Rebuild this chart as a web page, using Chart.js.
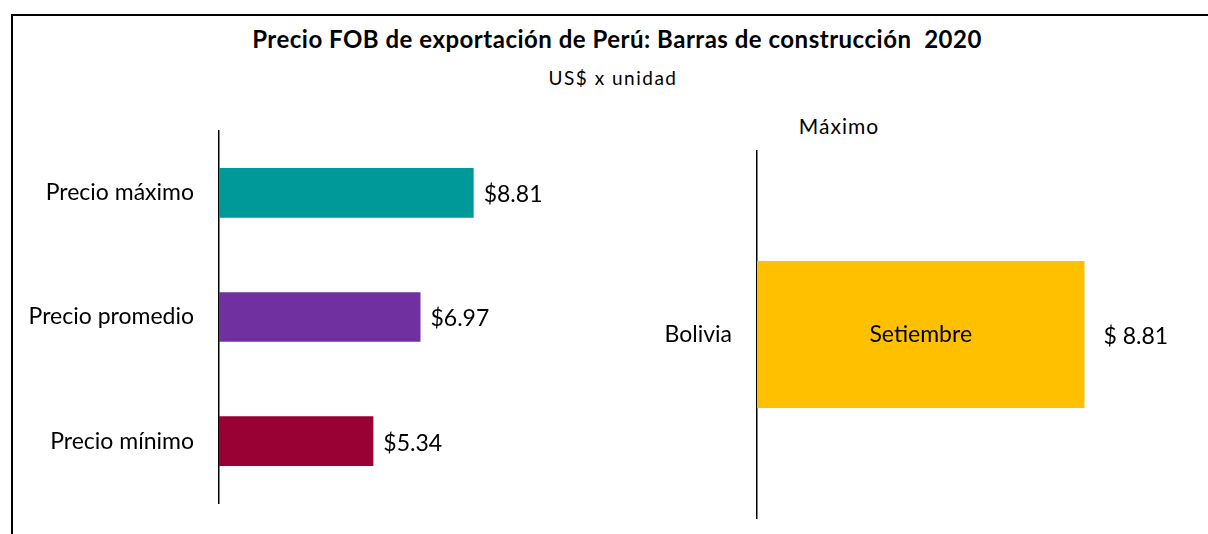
<!DOCTYPE html>
<html>
<head>
<meta charset="utf-8">
<script src="https://cdn.jsdelivr.net/npm/chart.js@4"></script>
<style>
  body { margin: 0; background: #fff; font-family: Lato, "Open Sans", sans-serif; }
  #frame {
    position: absolute; left: 11px; top: 14px; width: 1200px; height: 530px;
    border-top: 2px solid #000; border-left: 2px solid #000;
  }
  .txt { position: absolute; color: #000; white-space: nowrap; transform: translateX(-50%); }
  #title { left: 617px; top: 24px; font-size: 24px; font-weight: bold; letter-spacing: 0.5px; }
  #sub { left: 613px; top: 66px; font-size: 19px; letter-spacing: 1.5px; }
  #maxTitle { left: 839px; top: 113px; font-size: 21px; letter-spacing: 1px; }
  #left { position: absolute; left: 14px; top: 117px; width: 560px; height: 400px; }
  #right { position: absolute; left: 640px; top: 137px; width: 563px; height: 395px; }
</style>
</head>
<body>
<div id="frame"></div>
<div class="txt" id="title">Precio FOB de exportación de Perú: Barras de construcción&nbsp; 2020</div>
<div class="txt" id="sub">US$ x unidad</div>
<div class="txt" id="maxTitle">Máximo</div>
<div id="left"><canvas id="chartLeft"></canvas></div>
<div id="right"><canvas id="chartRight"></canvas></div>

<script>
/* =========================
   DATOS
========================= */
const precioLabels = ["Precio máximo", "Precio promedio", "Precio mínimo"];
const precioValues = [8.81, 6.97, 5.34];
const precioColors = ["#009999", "#7030A0", "#990033"];

const maxLabels = ["Bolivia"];
const maxValues = [8.81];
const maxMes = ["Setiembre"];
const maxColors = ["#FFC000"];

const FONT = "Lato, 'Open Sans', sans-serif";

/* =========================
   ETIQUETAS DE VALOR
========================= */
function valueLabels(offset, fmt, inner) {
  return {
    id: "valueLabels",
    afterDatasetsDraw(chart) {
      const ctx = chart.ctx;
      const meta = chart.getDatasetMeta(0);
      const data = chart.data.datasets[0].data;
      ctx.save();
      ctx.fillStyle = "#000";
      ctx.font = "23px " + FONT;
      ctx.textBaseline = "middle";
      meta.data.forEach((bar, i) => {
        ctx.textAlign = "left";
        ctx.fillText(fmt(data[i]), bar.x + offset, bar.y + 2);
        if (inner) {
          ctx.textAlign = "center";
          ctx.fillText(inner[i], (bar.x + bar.base) / 2, bar.y);
        }
      });
      ctx.restore();
    }
  };
}

// el espacio entre etiqueta y eje va como tick transparente,
// asi no agranda el padding vertical de la escala
function barOptions(axisWidth, max) {
  return {
    indexAxis: "y",
    responsive: true,
    maintainAspectRatio: false,
    animation: false,
    layout: { padding: 0 },
    plugins: { legend: { display: false }, tooltip: { enabled: false } },
    scales: {
      x: { display: false, min: 0, max: max },
      y: {
        afterFit: s => { s.width = axisWidth; },
        grid: { display: true, color: "transparent", drawOnChartArea: false, drawTicks: true, tickLength: 25 },
        border: { display: true, color: "#000", width: 1.5 },
        ticks: { color: "#000", padding: 0, font: { family: FONT, size: 23 } }
      }
    }
  };
}

/* =========================
   GRAFICO IZQUIERDO
========================= */
new Chart(document.getElementById("chartLeft"), {
  type: "bar",
  data: {
    labels: precioLabels,
    datasets: [{
      data: precioValues,
      backgroundColor: precioColors,
      barPercentage: 0.4,
      categoryPercentage: 1
    }]
  },
  options: barOptions(205, 12.28),
  plugins: [valueLabels(10, v => "$" + v.toFixed(2))]
});

/* =========================
   GRAFICO DERECHO
========================= */
new Chart(document.getElementById("chartRight"), {
  type: "bar",
  data: {
    labels: maxLabels,
    datasets: [{
      data: maxValues,
      backgroundColor: maxColors,
      barPercentage: 0.4,
      categoryPercentage: 1
    }]
  },
  options: barOptions(117, 12),
  plugins: [valueLabels(19, v => "$ " + v.toFixed(2), maxMes)]
});
</script>
</body>
</html>
